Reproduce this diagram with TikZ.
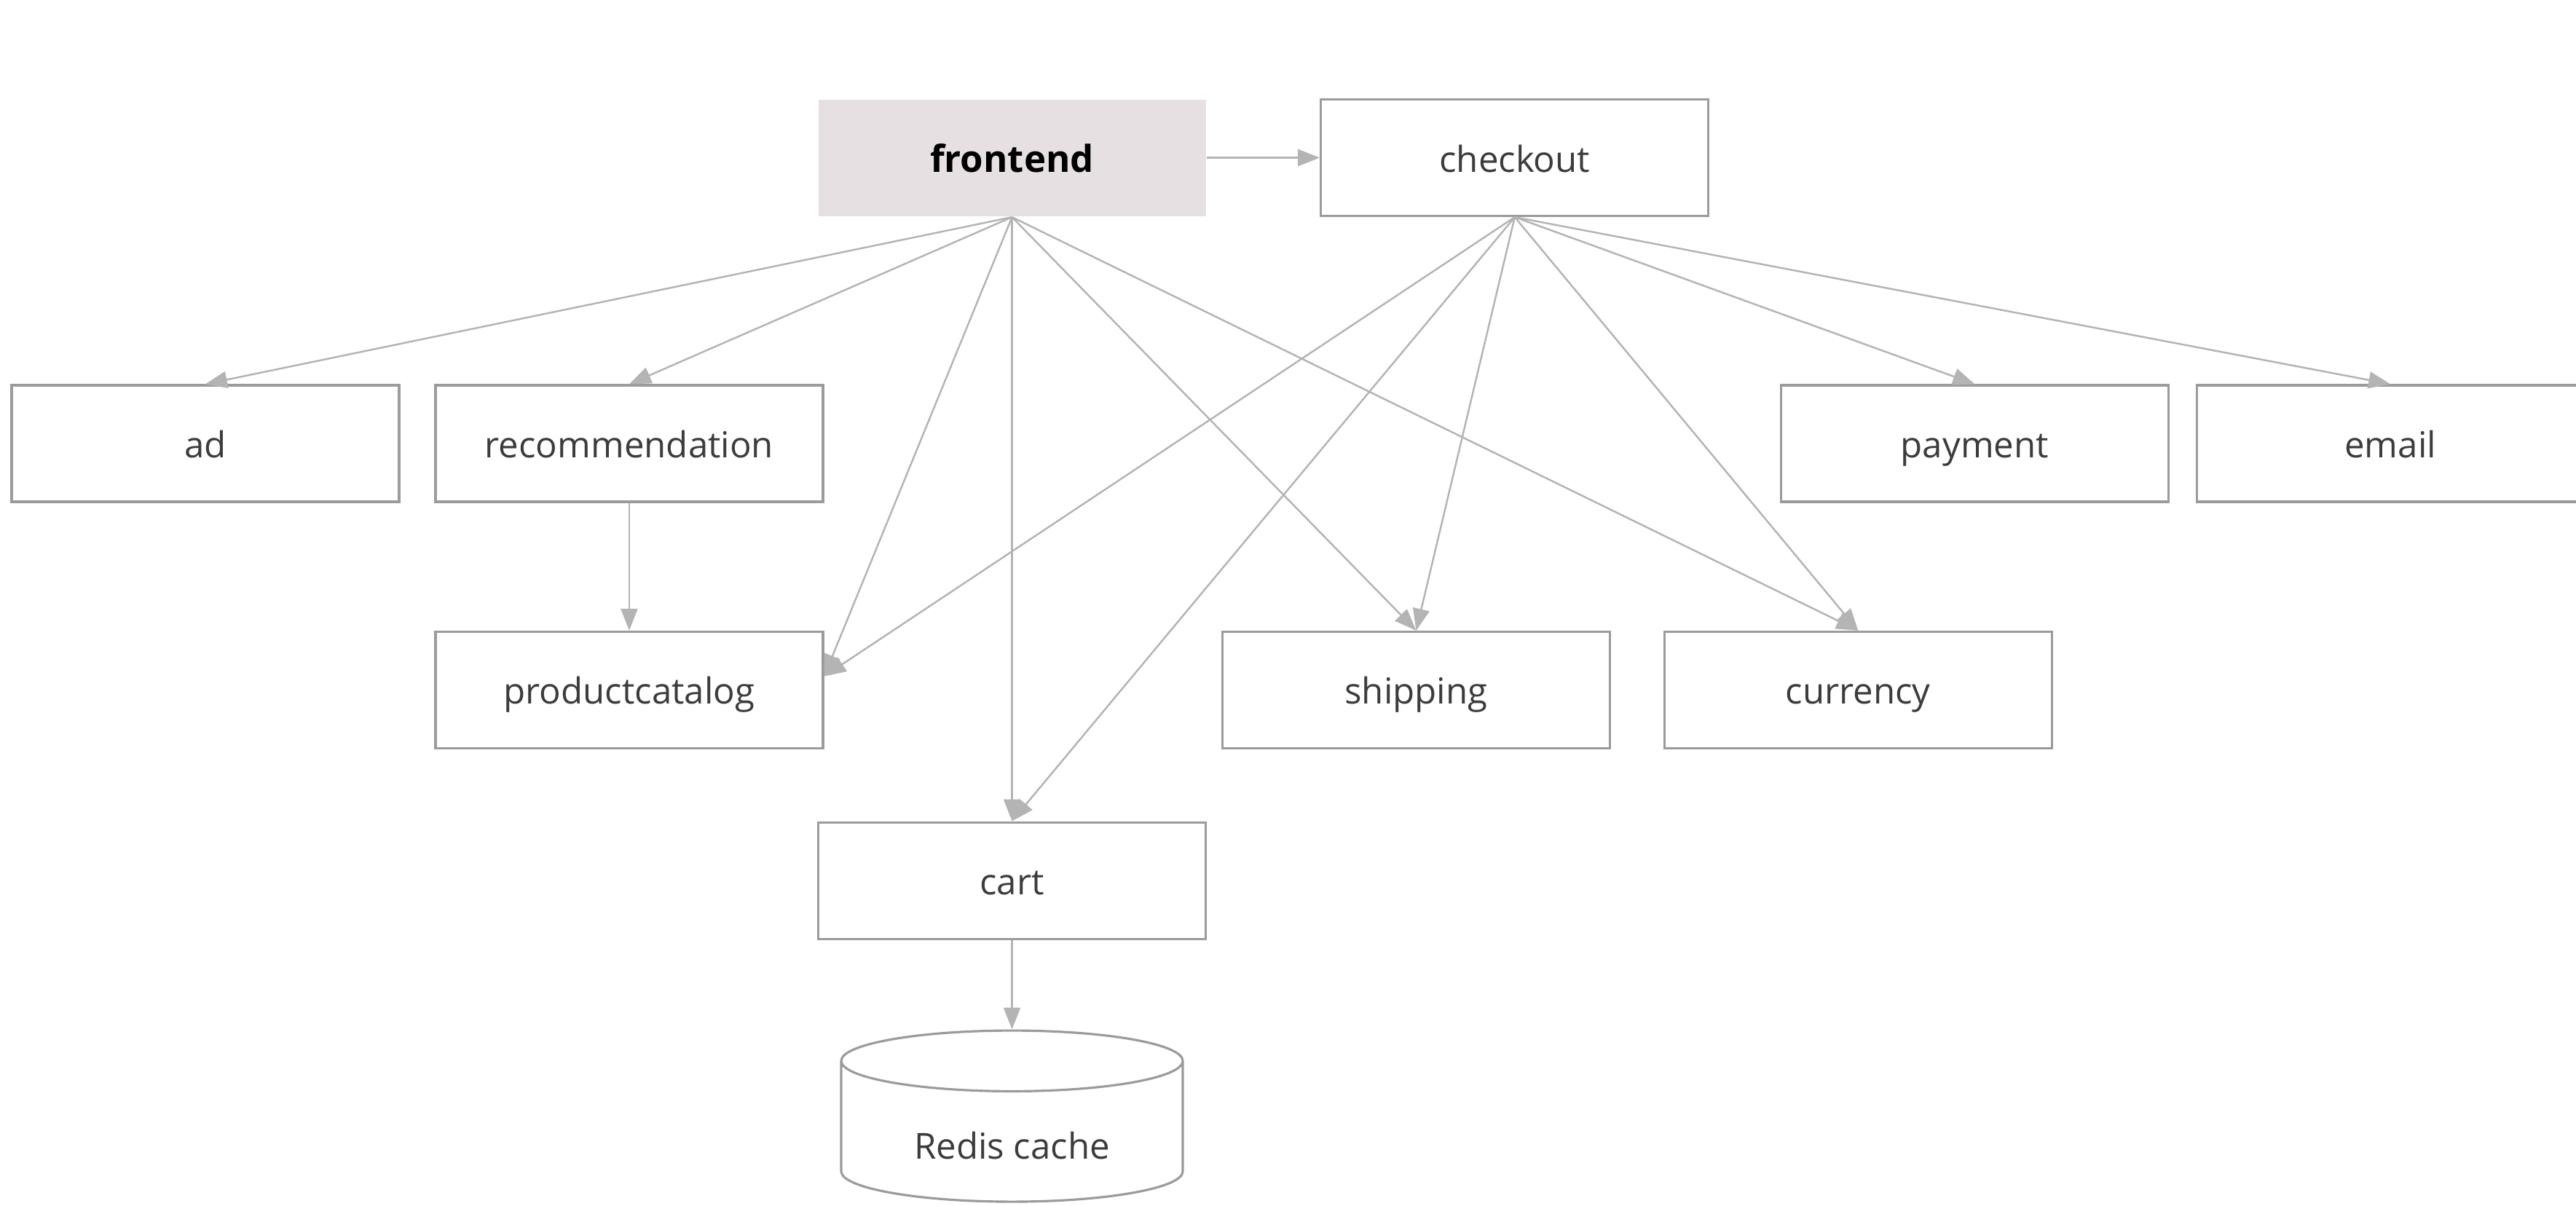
\documentclass[tikz,border=0pt]{standalone}
\usepackage{fontspec}
\setmainfont{Open Sans}
\usetikzlibrary{arrows.meta,shapes.geometric}
\definecolor{edge}{RGB}{180,180,180}
\definecolor{border}{RGB}{155,155,155}
\definecolor{label}{RGB}{60,60,60}
\definecolor{front}{RGB}{230,224,226}

\begin{document}
\begin{tikzpicture}[x=0.22557mm, y=-0.22557mm,
	service/.style={draw=border, line width=0.9pt, fill=white, minimum width=53.2mm, minimum height=16mm, inner sep=0pt, text=label, text height=4.2mm, text depth=0.3mm, font=\fontsize{14}{16}\selectfont},
	entry/.style={service, draw=none, fill=front, text=black, font=\fontsize{14.5}{16}\selectfont\bfseries},
	store/.style={cylinder, shape border rotate=90, aspect=0.31, draw=border, line width=0.9pt, minimum width=46.9mm, minimum height=23.5mm, inner sep=0pt, text=label, text height=7.4mm, text depth=0pt, font=\fontsize{14}{16}\selectfont},
	call/.style={draw=edge, line width=0.7pt, -{Triangle[length=3mm, width=2.3mm]}}]
		\useasboundingbox (0,0) rectangle (1568,734);
		\node[entry] (frontend) at (616,96) {frontend};
		\node[service] (checkout) at (922,96) {checkout};
		\node[service] (ad) at (125,270) {ad};
		\node[service] (recommendation) at (383,270) {recommendation};
		\node[service] (payment) at (1202,270) {payment};
		\node[service] (email) at (1455,270) {email};
		\node[service] (productcatalog) at (383,420) {productcatalog};
		\node[service] (shipping) at (862,420) {shipping};
		\node[service] (currency) at (1131,420) {currency};
		\node[service] (cart) at (616,536) {cart};
		\node[store] (redis) at (616,689) {Redis cache};
		\draw[call] (frontend) -- (checkout);
		\foreach \t in {ad, recommendation, cart, shipping, currency}{
		  \draw[call] (frontend.south) -- (\t.north);
		}
		\draw[call] (frontend.south) -- (productcatalog.4);
		\foreach \t in {cart, shipping, currency, payment, email}{
		  \draw[call] (checkout.south) -- (\t.north);
		}
		\draw[call] (checkout.south) -- (productcatalog.4);
		\draw[call] (recommendation) -- (productcatalog);
		\draw[call] (cart) -- (redis);
	\end{tikzpicture}
\end{document}
